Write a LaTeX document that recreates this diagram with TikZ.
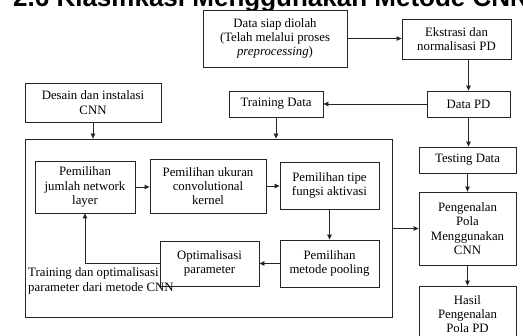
\documentclass[tikz,border=0pt]{standalone}
\usepackage{fontspec}
\setmainfont{Liberation Serif}
\newfontfamily\titlefont{Liberation Sans}
\usetikzlibrary{arrows.meta}
\tikzset{
  box/.style={draw=black!85, line width=0.8pt, rectangle, inner sep=0pt, align=center,
    font=\fontsize{12.8}{14.3}\selectfont},
  arr/.style={draw=black!85, line width=0.8pt, -{Triangle[length=5pt,width=4.5pt]}},
}
\begin{document}
\begin{tikzpicture}[x=1pt,y=-1pt]
\useasboundingbox (0,0) rectangle (523,336);
\clip (0,0) rectangle (523,336);
\fill[white] (0,0) rectangle (523,336);
\node[anchor=base west, inner sep=0, font=\titlefont\bfseries\fontsize{26}{30}\selectfont] (title) at (13,6.5) {2.6 Klasifikasi Menggunakan Metode CNN};

\node[box, fill=white, minimum width=144pt, minimum height=57pt] (data) at (275,38.5) {Data siap diolah\\(Telah melalui proses\\\textit{preprocessing})};
\node[box, minimum width=109pt, minimum height=40pt] (ekstr) at (456.5,39) {Ekstrasi dan\\normalisasi PD};
\node[box, minimum width=83pt, minimum height=26pt] (dpd) at (468.5,104) {Data PD};
\node[box, minimum width=94pt, minimum height=26pt] (train) at (276,104) {Training Data};
\node[box, minimum width=136pt, minimum height=39pt] (desain) at (93,102.5) {Desain dan instalasi\\CNN};
\node[box, minimum width=367pt, minimum height=178pt] (big) at (208.5,228) {};
\node[box, minimum width=100pt, minimum height=52pt] (jumlah) at (85,187) {Pemilihan\\jumlah network\\layer};
\node[box, minimum width=116pt, minimum height=54pt] (ukuran) at (208,186) {Pemilihan ukuran\\convolutional\\kernel};
\node[box, minimum width=99pt, minimum height=47pt] (tipe) at (329.5,185.5) {Pemilihan tipe\\fungsi aktivasi};
\node[box, minimum width=99pt, minimum height=47pt] (pooling) at (329.5,263.5) {Pemilihan\\metode pooling};
\node[box, minimum width=99pt, minimum height=45pt] (opt) at (209.5,263.5) {Optimalisasi\\parameter};
\node[anchor=base west, inner sep=0, align=left, font=\fontsize{12.8}{15}\selectfont] (lbl) at (28,292) {Training dan optimalisasi\\parameter dari metode CNN};
\node[box, minimum width=97pt, minimum height=26pt] (testing) at (467.5,160) {Testing Data};
\node[box, minimum width=97pt, minimum height=73pt] (pen) at (467.5,228.5) {Pengenalan\\Pola\\Menggunakan\\CNN};
\node[box, minimum width=97pt, minimum height=56pt] (hasil) at (467.5,314) {Hasil\\Pengenalan\\Pola PD};

\draw[arr] (data.east) -- (data.east -| ekstr.west);
\draw[arr] (ekstr.south -| dpd.north) -- (dpd.north);
\draw[arr] (dpd.west) -- (train.east);
\draw[arr] (train.south) -- (train.south |- big.north);
\draw[arr] (desain.south) -- (desain.south |- big.north);
\draw[arr] (dpd.south) -- (dpd.south |- testing.north);
\draw[arr] (testing.south) -- (pen.north);
\draw[arr] (pen.south) -- (hasil.north);
\draw[arr] (big.east |- pen.west) -- (pen.west);
\draw[arr] (jumlah.east) -- (jumlah.east -| ukuran.west);
\draw[arr] (ukuran.east) -- (ukuran.east -| tipe.west);
\draw[arr] (tipe.south) -- (pooling.north);
\draw[arr] (pooling.west) -- (opt.east);
\draw[arr] (opt.west) -| (jumlah.south);
\end{tikzpicture}
\end{document}
